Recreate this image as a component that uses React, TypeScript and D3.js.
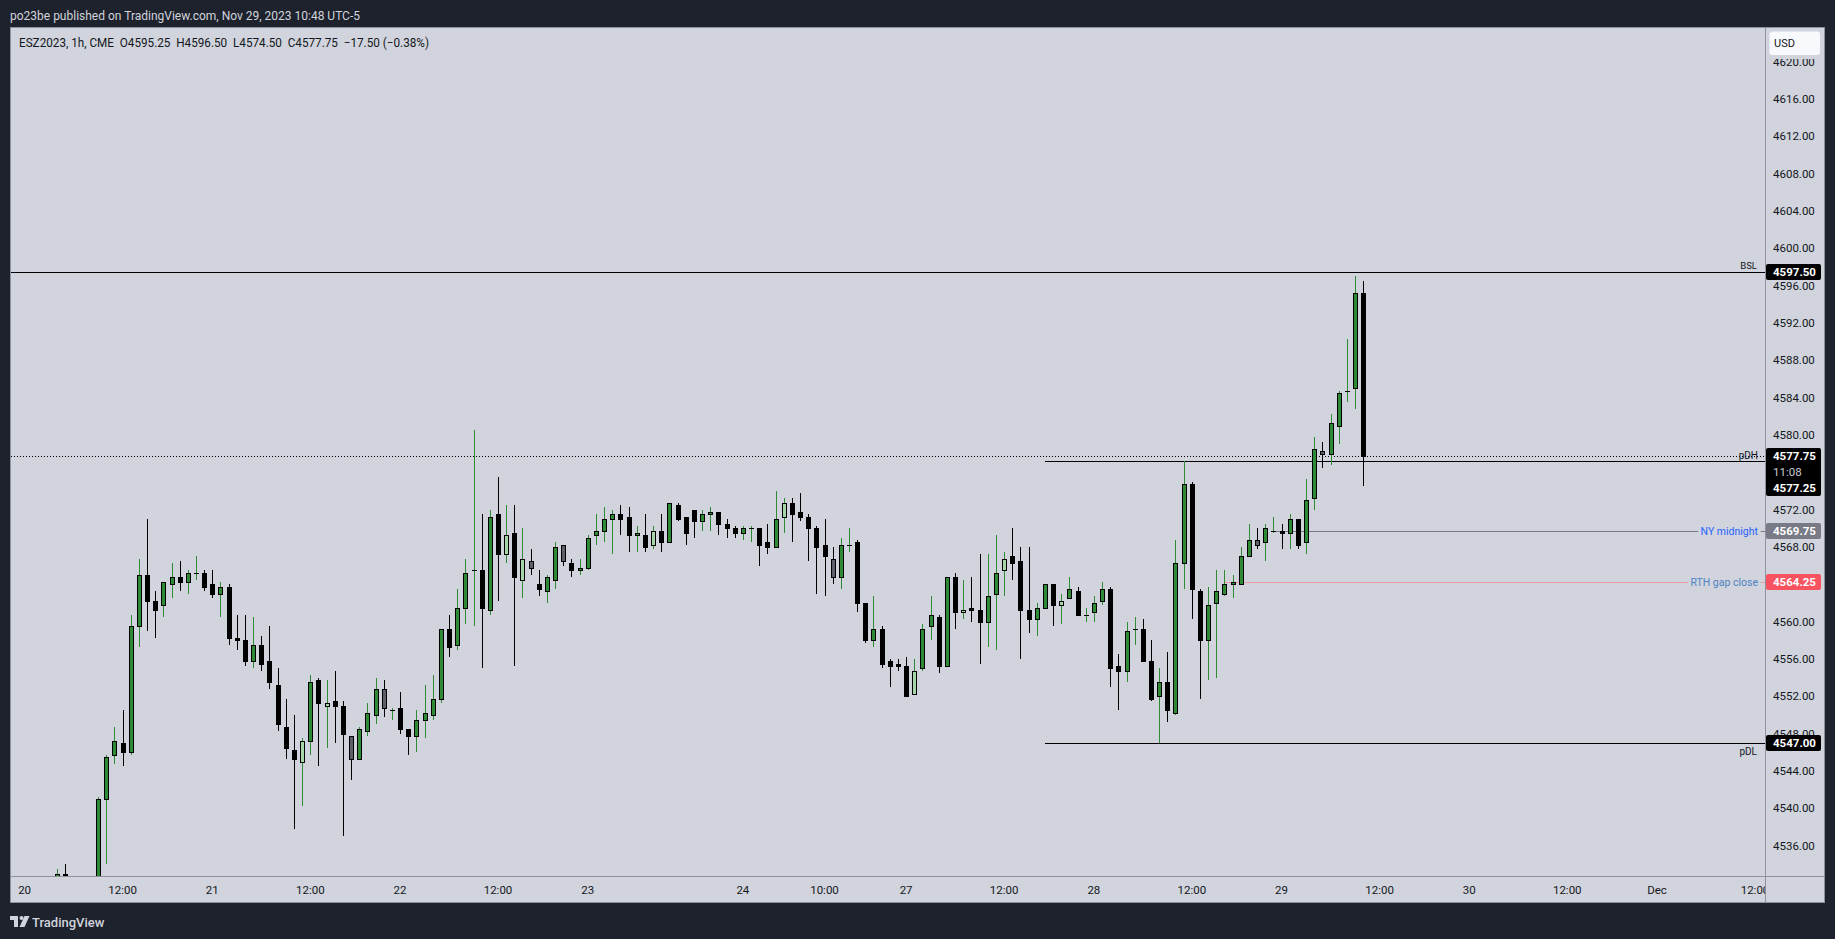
import React from "react";
import * as d3 from "d3";

// ---------- DATA ----------
// bar index 0 = Nov 20 00:00 (hourly, CME session); first drawn bar index:
const FIRST_BAR = 4;

const opens = [
  4532.5, 4533, 4531.5, 4530.25, 4531.5, 4531, 4541, 4545.75, 4547, 4546,
  4559.5, 4565, 4562.25, 4561.75, 4564, 4564.75, 4564.25, 4565.25, 4565.25, 4564,
  4563, 4563.75, 4558.25, 4558, 4555.75, 4557.5, 4555.75, 4553.25, 4548.75, 4546.25,
  4545, 4547.25, 4553.75, 4551, 4551.5, 4551, 4547.75, 4545.25, 4548.25, 4550,
  4552.75, 4550.5, 4550.75, 4548.5, 4547.75, 4549.5, 4550, 4551.75, 4559.25, 4557.5,
  4561.5, 4565.5, 4565.5, 4561.25, 4571.5, 4567.25, 4569.5, 4564.5, 4566.5, 4564,
  4563.25, 4564.5, 4568.25, 4566.25, 4565.5, 4565.75, 4569.25, 4569.75, 4571, 4571.5,
  4571.25, 4569.25, 4569.25, 4568.25, 4569.75, 4568.5, 4572.5, 4571.25, 4572, 4570.75,
  4571.5, 4571.75, 4570.5, 4570, 4569.5, 4570, 4570, 4568.5, 4568, 4571.25,
  4572.75, 4571.75, 4571.25, 4570, 4568.25, 4566.75, 4564.75, 4568.25, 4568.5, 4562,
  4558, 4559.25, 4555.75, 4555.5, 4555.25, 4552.25, 4555, 4559.5, 4560.5, 4555.25,
  4564.75, 4561, 4561.5, 4561.25, 4560, 4563, 4565.5, 4567, 4566.5, 4561.25,
  4560.25, 4561.5, 4564, 4561.75, 4562.5, 4563.25, 4560.75, 4561, 4562.25, 4563.5,
  4555.25, 4554.75, 4559.25, 4559.25, 4555.75, 4552, 4553.5, 4550.25, 4566.25, 4574.75,
  4563.25, 4558, 4562, 4563, 4564, 4564, 4567, 4568.75, 4568.5, 4569.75,
  4569.75, 4569.5, 4571, 4568.5, 4573.25, 4578.25, 4578, 4581, 4584.75, 4585,
  4595.25,
];

const highs = [
  4533.5, 4534, 4532.5, 4532, 4532.5, 4541.25, 4545.75, 4548.75, 4550.5, 4560.75,
  4566.75, 4571, 4563.25, 4564.25, 4566.25, 4566.5, 4565.5, 4567, 4565.5, 4565.5,
  4564.25, 4564, 4560.75, 4560.75, 4560.5, 4558.5, 4559.5, 4555, 4551.75, 4550,
  4547.5, 4554.25, 4554, 4553.75, 4554.75, 4551.5, 4547.75, 4548.75, 4551.25, 4554,
  4553.75, 4550.75, 4552.5, 4548.5, 4550.5, 4553.25, 4554.25, 4559.25, 4560.75, 4563.5,
  4566.75, 4580.5, 4571.5, 4572, 4575.5, 4572.5, 4572.5, 4570, 4567.75, 4565.5,
  4565, 4568.5, 4568.25, 4566.75, 4566.75, 4569.25, 4571.5, 4572.25, 4572, 4572.5,
  4572.25, 4570.25, 4571.5, 4570.25, 4571.5, 4572.75, 4572.75, 4571.25, 4572, 4572,
  4572.25, 4571.75, 4571, 4570.25, 4570.25, 4570.25, 4570, 4570.5, 4574, 4573.25,
  4573.25, 4573.75, 4571.5, 4570.25, 4571, 4568, 4569, 4570, 4568.75, 4562,
  4562.75, 4559.5, 4556, 4556, 4556.25, 4556, 4559.75, 4562.75, 4560.75, 4564.75,
  4565.25, 4564.5, 4564.75, 4567.25, 4567.25, 4569.25, 4567.5, 4570, 4568, 4568,
  4562, 4564, 4564, 4563, 4564.75, 4563.75, 4561.5, 4562.75, 4564.25, 4563.75,
  4556.5, 4560, 4560.5, 4560.25, 4558, 4555, 4556.75, 4568.75, 4577.25, 4575,
  4563.5, 4563.75, 4565.5, 4565.5, 4565, 4568, 4570.5, 4570, 4570.5, 4571.25,
  4570.5, 4571.5, 4571, 4575.25, 4579.75, 4579.25, 4582.25, 4584.75, 4590.25, 4597,
  4596.5,
];

const lows = [
  4531, 4530.5, 4529.5, 4529, 4530, 4530.75, 4534, 4544.75, 4544.5, 4545.75,
  4557.25, 4559, 4558.25, 4560.5, 4562.5, 4563.25, 4563, 4564.5, 4563.25, 4562.5,
  4560.5, 4557.5, 4557, 4555.25, 4555, 4554.75, 4552.75, 4548.25, 4545.25, 4537.75,
  4540.25, 4545.75, 4544.5, 4546.5, 4547, 4537, 4543, 4545.25, 4547.75, 4549,
  4549.75, 4549.5, 4548, 4545.75, 4546, 4547.5, 4549.5, 4551.25, 4556.25, 4557,
  4559.75, 4559.5, 4555, 4560.75, 4562.25, 4566.25, 4555.25, 4562.5, 4565, 4562.75,
  4562, 4563.5, 4566, 4564.75, 4565, 4565.5, 4568.25, 4568.5, 4567.25, 4569.25,
  4567.5, 4567.5, 4567.5, 4567.75, 4567.5, 4568.5, 4570.75, 4568.25, 4569, 4569.75,
  4569.75, 4569.25, 4569, 4569, 4568.75, 4568.5, 4566, 4567.25, 4568, 4569.5,
  4568.5, 4570.75, 4566.5, 4563, 4562.75, 4564, 4563.5, 4567.5, 4561, 4557.75,
  4557.25, 4555, 4553, 4554.75, 4552, 4552.25, 4554.75, 4558, 4554.5, 4555.25,
  4559.25, 4560.25, 4560, 4555.5, 4557.25, 4557, 4562.75, 4564.5, 4556, 4558.75,
  4558.5, 4561.5, 4559.5, 4559.75, 4562.5, 4560.75, 4560, 4560, 4561.75, 4553,
  4550.5, 4553.5, 4557.5, 4555.75, 4551.5, 4547, 4549.25, 4550, 4563.5, 4560.25,
  4551.75, 4553.75, 4554, 4562.75, 4562.5, 4564, 4567, 4567.75, 4566.5, 4569.5,
  4567.75, 4567.75, 4567.75, 4567.25, 4572, 4576.5, 4576.75, 4579, 4583.5, 4582.75,
  4574.5,
];

const closes = [
  4533, 4531.5, 4530.25, 4531.5, 4531, 4541, 4545.5, 4547.25, 4546, 4559.5,
  4565, 4562.25, 4561.25, 4564.25, 4564.75, 4564.25, 4565.25, 4565.25, 4563.75, 4563,
  4563.75, 4558.25, 4558, 4555.75, 4557.5, 4555.5, 4553.5, 4549, 4546.5, 4545.25,
  4547.25, 4553.5, 4551.25, 4551.25, 4551, 4548, 4545.25, 4548.5, 4550.25, 4552.75,
  4550.75, 4550.5, 4548.5, 4547.75, 4549.5, 4550.25, 4551.75, 4559.25, 4557.25, 4561.5,
  4565.25, 4565.5, 4561.5, 4571.25, 4567.25, 4569.25, 4564.75, 4566.75, 4565.75, 4563.5,
  4564.75, 4568, 4566.5, 4565.5, 4565.75, 4569, 4569.75, 4571, 4571.5, 4571,
  4569.25, 4569.5, 4568, 4569.75, 4568.5, 4572.75, 4571, 4569.5, 4570.75, 4571.5,
  4571.75, 4570.5, 4570, 4569.5, 4570, 4570, 4568.25, 4568, 4571, 4572.75,
  4571.5, 4571.25, 4570, 4568, 4567, 4564.75, 4568.25, 4568.25, 4562, 4558,
  4559.25, 4555.5, 4555.25, 4555.25, 4552, 4554.75, 4559.25, 4560.75, 4555.25, 4564.75,
  4561, 4561.25, 4561.25, 4560, 4562.75, 4565.25, 4566.75, 4566.25, 4561.25, 4560.25,
  4561.5, 4564, 4561.75, 4562.25, 4563.5, 4560.75, 4560.75, 4562, 4563.5, 4555,
  4554.75, 4559, 4559.25, 4555.75, 4551.75, 4553.5, 4550.5, 4566.25, 4574.75, 4563.5,
  4558, 4561.75, 4563.25, 4564, 4564.25, 4567, 4568.75, 4568.25, 4570, 4569.75,
  4569.5, 4571, 4568.25, 4573, 4578.5, 4578, 4581.25, 4584.5, 4584.75, 4595.25,
  4577.75,
];

// g = up (green), b = down (black), l = light green, n = grey (bar colouring)
const barStyles = (
  "gbbgbgggbg" + "gbbggbggbb" + "gbbbgbbbbb" + "lgblbbnggg" +
  "ngbbggggbg" + "ggbgblblnb" + "ggnbgggggb" + "bgblbgbbbg" + "gbbbggbbgl" +
  "bbbbbnggbb" + "gbbbblggbg" + "blbbgglbbb" + "ggblgbgggb" + "bggbbgbggb" +
  "bggggggngg" + "bgbggngggg" + "b"
).split("");

const tickBars = [0, 12, 23, 35, 46, 58, 69, 88, 98, 108, 120, 131, 143, 154, 166, 177, 189, 200, 212];
const tickLabels = ["20", "12:00", "21", "12:00", "22", "12:00", "23", "24", "10:00", "27", "12:00", "28", "12:00", "29", "12:00", "30", "12:00", "Dec", "12:00"];
const priceTicks = [4536, 4540, 4544, 4548, 4552, 4556, 4560, 4564, 4568, 4572, 4576, 4580, 4584, 4588, 4592, 4596, 4600, 4604, 4608, 4612, 4616, 4620];

const levelNames = ["BSL", "pDH", "pDL", "NY midnight", "RTH gap close"];
const levelPrices = [4597.5, 4577.25, 4547, 4569.75, 4564.25];
const levelStartBars = [-2, 125, 125, 153, 147];

const currentPrice = 4577.75;
const countdown = "11:08";
const headerText = "po23be published on TradingView.com, Nov 29, 2023 10:48 UTC-5";
const legendText = "ESZ2023, 1h, CME  O4595.25  H4596.50  L4574.50  C4577.75  \u221217.50 (\u22120.38%)";

// ---------- LAYOUT ----------
const W = 1835, H = 939;
const PL = 11, PR = 1765, PT = 28, PB = 876;
const FONT = "Roboto, 'Noto Sans', 'DejaVu Sans', sans-serif";
const PANEL = "#d1d4dc";
const TEXT = "#131722";
const GREEN = "#2e8b34";
const LIGHT = "#a5d6a7";
const GREY = "#5d606b";

export default function App() {
  const x = d3.scaleLinear().domain([0, 212]).range([24.6, 1755]);
  const y = d3.scaleLinear().domain([4536, 4616]).range([845.7, 99.05]);

  const candles = opens.map((o, k) => {
    const i = FIRST_BAR + k;
    const h = highs[k], l = lows[k], c = closes[k];
    const s = barStyles[k] || (c >= o ? "g" : "b");
    const cx = Math.round(x(i));
    const yt = Math.round(y(Math.max(o, c)));
    const yb = Math.round(y(Math.min(o, c)));
    const yh = Math.round(y(h));
    const yl = Math.round(y(l));
    const fill = s === "g" ? GREEN : s === "l" ? LIGHT : s === "n" ? GREY : "#000";
    const wick = s === "g" || s === "l" ? GREEN : "#000";
    const bh = Math.max(1, yb - yt + 1);
    return (
      <g key={i}>
        <rect x={cx} y={yh} width={1} height={Math.max(1, yl - yh)} fill={wick} />
        <rect x={cx - 2} y={yt} width={5} height={bh} fill="#000" />
        {bh > 2 && s !== "b" && (
          <rect x={cx - 1} y={yt + 1} width={3} height={bh - 2} fill={fill} />
        )}
      </g>
    );
  });

  const ly = levelPrices.map((p) => Math.round(y(p)) + 0.5);
  const lx = levelStartBars.map((b) => Math.max(PL, Math.round(x(b))));
  const cy = Math.round(y(currentPrice)) + 0.5;

  // y positions of price-scale boxes (tick labels fully behind them are not drawn)
  const cyBox = Math.round(y(currentPrice));
  const boxCenters = [y(levelPrices[0]), y(levelPrices[2]), y(levelPrices[3]), y(levelPrices[4]), cyBox, cyBox + 15.5, cyBox + 31.5];
  const visibleTicks = priceTicks.filter((p) => boxCenters.every((bc) => Math.abs(y(p) - bc) > 6));

  const axisBox = (p: number, fill: string, key: string) => {
    const yc = Math.round(y(p));
    return (
      <g key={key}>
        <rect x={1766} y={yc - 8} width={55} height={16} fill={fill} rx={2} />
        <text x={1773} y={yc} dominantBaseline="central" fontSize={11.5} fontWeight={700} fill="#fff" fontFamily={FONT}>
          {p.toFixed(2)}
        </text>
      </g>
    );
  };

  return (
    <svg width={W} height={H} style={{ position: "absolute", left: 0, top: 0, display: "block" }} xmlns="http://www.w3.org/2000/svg">
      <defs>
        <clipPath id="plot">
          <rect x={PL} y={PT} width={PR - PL} height={PB - PT} />
        </clipPath>
        <clipPath id="taxis">
          <rect x={PL} y={PB} width={PR - PL} height={27} />
        </clipPath>
      </defs>
      <rect x={0} y={0} width={W} height={H} fill="#1e222d" />
      <text x={10} y={15} dominantBaseline="central" fontSize={12.5} fill="#d1d4dc" fontFamily={FONT}
        textLength={350} lengthAdjust="spacingAndGlyphs">
        {headerText}
      </text>
      <rect x={10.5} y={27.5} width={1814} height={875} fill={PANEL} stroke="#8f929c" />
      <line x1={PR + 0.5} x2={PR + 0.5} y1={28} y2={903} stroke="#8f929c" />
      <line x1={10} x2={1825} y1={PB + 0.5} y2={PB + 0.5} stroke="#8f929c" />

      <g clipPath="url(#plot)">
        {/* level lines */}
        <line x1={lx[0]} x2={PR} y1={ly[0]} y2={ly[0]} stroke="#000" />
        <line x1={lx[1]} x2={PR} y1={ly[1]} y2={ly[1]} stroke="#000" />
        <line x1={lx[2]} x2={PR} y1={ly[2]} y2={ly[2]} stroke="#000" />
        <line x1={lx[3]} x2={PR} y1={ly[3]} y2={ly[3]} stroke="#787b86" />
        <line x1={lx[4]} x2={PR} y1={ly[4]} y2={ly[4]} stroke="#ee9aa3" />
        <line x1={PL} x2={PR} y1={cy} y2={cy} stroke="#000" strokeDasharray="1,2" />
        {candles}
        {/* level texts */}
        <text x={1757} y={ly[0] - 4} textAnchor="end" fontSize={9.5} fill={TEXT} fontFamily={FONT}>{levelNames[0]}</text>
        <text x={1758} y={ly[1] - 3} textAnchor="end" fontSize={10} fill={TEXT} fontFamily={FONT}>{levelNames[1]}</text>
        <text x={1757} y={ly[2] + 11} textAnchor="end" fontSize={10} fill={TEXT} fontFamily={FONT}>{levelNames[2]}</text>
        <text x={1758} y={ly[3]} dominantBaseline="central" textAnchor="end" fontSize={10.5} fill="#2962ff" fontFamily={FONT}
          stroke={PANEL} strokeWidth={6} paintOrder="stroke">{levelNames[3]}</text>
        <text x={1758} y={ly[4]} dominantBaseline="central" textAnchor="end" fontSize={10.5} fill="#4f83c4" fontFamily={FONT}
          stroke={PANEL} strokeWidth={6} paintOrder="stroke">{levelNames[4]}</text>
      </g>

      {/* legend */}
      <text x={19} y={42.5} dominantBaseline="central" fontSize={12} fill={TEXT} fontFamily={FONT}
        style={{ whiteSpace: "pre" }} textLength={410} lengthAdjust="spacingAndGlyphs">
        {legendText}
      </text>

      {/* price axis */}
      <g>
        {visibleTicks.map((p) => (
          <text key={p} x={1773} y={y(p)} dominantBaseline="central" fontSize={11.5} fill={TEXT} fontFamily={FONT}>
            {p.toFixed(2)}
          </text>
        ))}
        <rect x={1766} y={28} width={58} height={31} fill={PANEL} />
        <rect x={1769.5} y={31.5} width={50.5} height={23.5} rx={3} fill="#f8f9fd" />
        <text x={1774} y={43.5} dominantBaseline="central" fontSize={11} fill={TEXT} fontFamily={FONT}>USD</text>
        {axisBox(levelPrices[0], "#000", "bsl")}
        {axisBox(levelPrices[2], "#000", "pdl")}
        {axisBox(levelPrices[3], "#787b86", "ny")}
        {axisBox(levelPrices[4], "#f7525f", "rth")}
        <g>
          <rect x={1766} y={cyBox - 8} width={55} height={48} fill="#000" rx={2} />
          <text x={1773} y={cyBox} dominantBaseline="central" fontSize={11.5} fontWeight={700} fill="#fff" fontFamily={FONT}>
            {currentPrice.toFixed(2)}
          </text>
          <text x={1773} y={cyBox + 15.5} dominantBaseline="central" fontSize={11.5} fill="#c8cad0" fontFamily={FONT}>
            {countdown}
          </text>
          <text x={1773} y={cyBox + 31.5} dominantBaseline="central" fontSize={11.5} fontWeight={700} fill="#fff" fontFamily={FONT}>
            {levelPrices[1].toFixed(2)}
          </text>
        </g>
      </g>

      {/* time axis */}
      <g clipPath="url(#taxis)">
        {tickBars.map((b, k) => (
          <text key={k} x={x(b)} y={889.5} textAnchor="middle" dominantBaseline="central" fontSize={11.5} fill={TEXT} fontFamily={FONT}>
            {tickLabels[k]}
          </text>
        ))}
      </g>

      {/* TradingView logo */}
      <g fill="#d1d4dc">
        <rect x={10} y={916} width={8} height={4} />
        <rect x={14} y={916} width={4} height={11} />
        <circle cx={21.5} cy={918} r={2} />
        <path d="M24.5 916h5l-5 11h-5z" />
      </g>
      <text x={32} y={922} dominantBaseline="central" fontSize={13} fontWeight={500} fill="#d1d4dc" fontFamily={FONT}>
        TradingView
      </text>
    </svg>
  );
}
